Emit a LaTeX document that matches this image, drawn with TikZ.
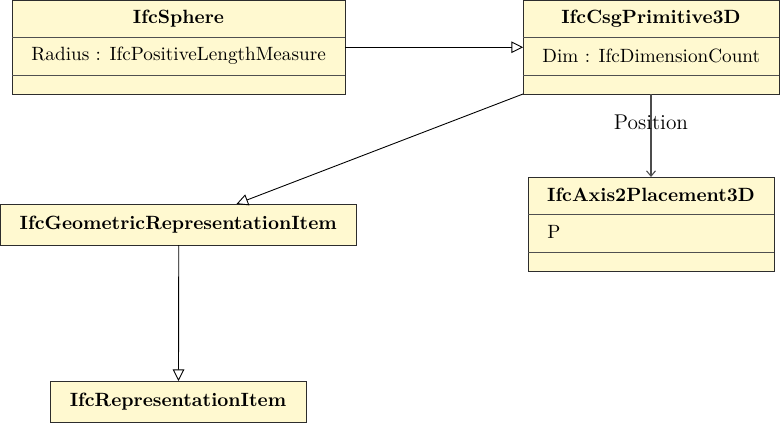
\documentclass[tikz,border=0pt]{standalone}
\usetikzlibrary{arrows.meta,calc}
\definecolor{clsfill}{RGB}{255,249,208}
\definecolor{clsline}{RGB}{45,45,45}
\definecolor{divline}{RGB}{80,80,80}
\newlength{\pxu}
\setlength{\pxu}{0.5625pt}
\tikzset{
  cls/.style={draw=clsline, fill=clsfill, line width=0.55pt, inner sep=0pt, outer sep=0pt, anchor=north west},
  ctitle/.style={font=\fontsize{10.8}{13}\selectfont\bfseries, inner sep=0pt, anchor=center},
  cattr/.style={font=\fontsize{10.8}{13}\selectfont, inner sep=0pt, anchor=west},
  cdiv/.style={draw=divline, line width=0.5pt},
  gen/.style={draw=black, line width=0.5pt, -{Triangle[open,length=6.5pt,width=6.5pt]}},
  assoc/.style={draw=black!70, line width=0.6pt, -{Straight Barb[length=3pt,width=5pt]}},
}
\begin{document}
\begin{tikzpicture}[x=\pxu, y=-\pxu]
\useasboundingbox (0,0) rectangle (780,423);
% IfcSphere
\node[cls, minimum width=333\pxu, minimum height=93.5\pxu] (sphere) at (12,0.5) {};
\node[ctitle] (sphereT) at ($(sphere.north)+(0,18)$) {IfcSphere};
\draw[cdiv] ($(sphere.north west)+(0,37)$) -- ($(sphere.north east)+(0,37)$);
\draw[cdiv] ($(sphere.north west)+(0,75)$) -- ($(sphere.north east)+(0,75)$);
\node[cattr] (sphereA) at ($(sphere.north west)+(19,55)$) {Radius : IfcPositiveLengthMeasure};
% IfcCsgPrimitive3D
\node[cls, minimum width=256\pxu, minimum height=93.5\pxu] (csg) at (523,0.5) {};
\node[ctitle] (csgT) at ($(csg.north)+(0,18)$) {IfcCsgPrimitive3D};
\draw[cdiv] ($(csg.north west)+(0,37)$) -- ($(csg.north east)+(0,37)$);
\draw[cdiv] ($(csg.north west)+(0,75)$) -- ($(csg.north east)+(0,75)$);
\node[cattr] (csgA) at ($(csg.north west)+(19,55)$) {Dim : IfcDimensionCount};
% IfcAxis2Placement3D
\node[cls, minimum width=246\pxu, minimum height=94\pxu] (axis) at (528,177) {};
\node[ctitle] (axisT) at ($(axis.north)+(0,18)$) {IfcAxis2Placement3D};
\draw[cdiv] ($(axis.north west)+(0,37)$) -- ($(axis.north east)+(0,37)$);
\draw[cdiv] ($(axis.north west)+(0,75)$) -- ($(axis.north east)+(0,75)$);
\node[cattr] (axisA) at ($(axis.north west)+(19,55)$) {P};
% IfcGeometricRepresentationItem
\node[cls, minimum width=355.5\pxu, minimum height=41\pxu] (geo) at (0.5,204) {};
\node[ctitle] (geoT) at (geo.center) {IfcGeometricRepresentationItem};
% IfcRepresentationItem
\node[cls, minimum width=256\pxu, minimum height=41\pxu] (rep) at (50,381) {};
\node[ctitle] (repT) at (rep.center) {IfcRepresentationItem};
% connectors
\draw[gen] (sphere.east) -- (csg.west);
\draw[gen] (csg.south west) -- ($(geo.north west)+(236,0)$);
\draw[gen] ($(geo.south)+(0.5,0)$) -- ($(rep.north)+(0.5,0)$);
\draw[assoc] (csg.south) -- node[pos=0.34, inner sep=0pt, font=\fontsize{12}{14}\selectfont] (posL) {Position} (axis.north);
\end{tikzpicture}
\end{document}
